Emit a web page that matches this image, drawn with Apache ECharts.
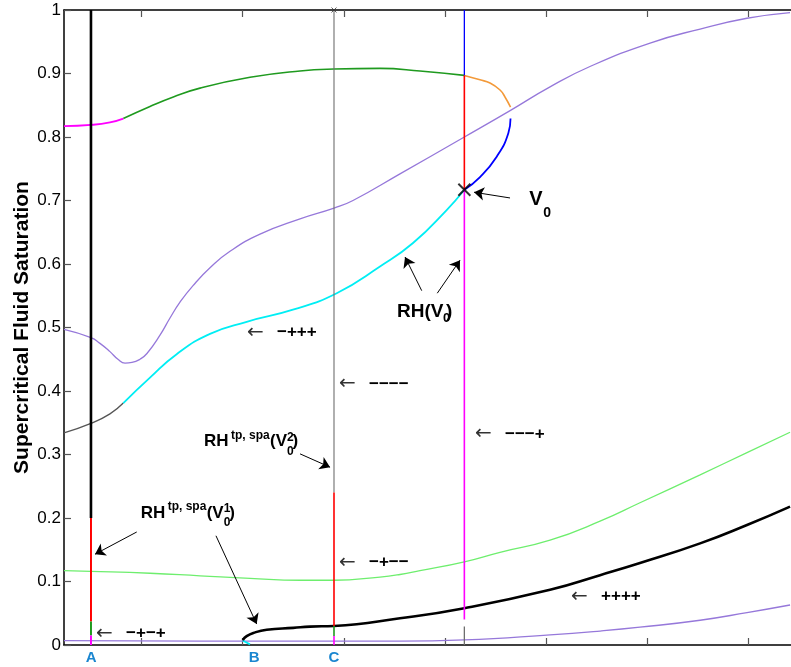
<!DOCTYPE html>
<html>
<head>
<meta charset="utf-8">
<script src="https://cdn.jsdelivr.net/npm/echarts@6/dist/echarts.min.js"></script>
<style>
  html, body { margin: 0; padding: 0; background: #fff; }
  #chart { width: 791px; height: 667px; }
</style>
</head>
<body>
<div id="chart"></div>
<script>
// ---------- axis ranges & ticks ----------
const xRange = [0.2311, 7.4255];
const xTickValues = [1, 2, 3, 4, 5, 6, 7];
const pointNames = ['A', 'B', 'C'];
const pointNamePos = [0.501, 2.113, 2.903];

// ---------- curves (x, saturation) ----------
const purpleUpper = [[0.231,0.497],[0.498,0.484],[0.587,0.475],[0.686,0.462],[0.765,0.450],[0.835,0.444],
  [0.904,0.445],[0.983,0.450],[1.052,0.459],[1.181,0.488],[1.280,0.515],[1.379,0.540],[1.508,0.566],
  [1.676,0.594],[1.874,0.620],[2.171,0.647],[2.567,0.671],[2.903,0.688],[3.091,0.700],[3.556,0.742],
  [4.193,0.800],[4.650,0.842],[5.041,0.879],[5.436,0.911],[6.031,0.948],[6.526,0.970],[6.990,0.987],
  [7.416,0.996]];
const purpleLower = [[0.231,0.007],[1.577,0.006],[2.903,0.006],[3.556,0.006],[4.193,0.008],[5.041,0.016],
  [5.536,0.022],[5.931,0.028],[6.526,0.039],[6.990,0.051],[7.416,0.063]];
const greenLower = [[0.231,0.117],[0.498,0.116],[1.082,0.113],[1.577,0.109],[2.072,0.105],[2.567,0.102],
  [2.903,0.102],[3.358,0.107],[3.556,0.111],[3.754,0.117],[4.193,0.131],[4.546,0.146],[5.041,0.165],
  [5.536,0.195],[5.931,0.224],[6.526,0.268],[6.990,0.303],[7.416,0.335]];
const blackLower = [[2.000,0.008],[2.039,0.014],[2.105,0.019],[2.237,0.024],[2.500,0.027],[2.666,0.029],
  [2.903,0.030],[3.556,0.042],[4.193,0.058],[5.041,0.087],[5.536,0.110],[5.931,0.129],[6.526,0.160],
  [6.990,0.189],[7.416,0.218]];
const cyanStub = [[2.000,0.007],[2.072,0.001]];

// saturation branch through V0
const grayBranch = [[0.231,0.334],[0.498,0.349],[0.686,0.364],[0.818,0.381]];
const cyanBranch = [[0.818,0.381],[1.082,0.421],[1.346,0.458],[1.676,0.490],[2.039,0.509],[2.497,0.528],
  [2.930,0.554],[3.358,0.596],[3.685,0.633],[4.018,0.685],[4.193,0.717]];
const blueBranch = [[4.193,0.717],[4.348,0.737],[4.513,0.769],[4.628,0.806],[4.650,0.829]];
const orangeBranch = [[4.650,0.847],[4.595,0.863],[4.546,0.874],[4.447,0.885],[4.348,0.890],[4.193,0.897]];
const greenBranch = [[0.818,0.829],[1.082,0.848],[1.313,0.863],[1.577,0.877],[2.072,0.894],[2.567,0.904],
  [2.903,0.907],[3.358,0.908],[3.754,0.904],[4.193,0.897]];
const magentaBranch = [[0.231,0.817],[0.498,0.819],[0.686,0.823],[0.818,0.829]];

// vertical wave groups: x position and break points from top to bottom
const xA = 0.498, xC = 2.903, xV0 = 4.193;
const breaksA = [1.0, 0.200, 0.037, 0.015, 0];
const breaksC = [1.0, 0.240, 0.030, 0.014, 0];
const breaksV0 = [1.0, 0.897, 0.717, 0.040];
const stubV0 = [0.029, 0];
const v0Point = [4.193, 0.717];
const topMarkC = [2.903, 1.0];

// annotation arrows: [from, to]
const arrows = [
  [[4.645,0.704],[4.289,0.713]],
  [[3.771,0.558],[3.606,0.611]],
  [[3.925,0.554],[4.150,0.606]],
  [[2.567,0.301],[2.864,0.280]],
  [[0.951,0.178],[0.538,0.143]],
  [[1.735,0.172],[2.138,0.033]]
];
// wave-group sign labels and their anchors
const signLabels = ['\u2212+++', '\u2212\u2212\u2212\u2212', '\u2212\u2212\u2212+', '\u2212+\u2212\u2212', '++++', '\u2212+\u2212+'];
const signAnchors = [[2.052,0.492],[2.962,0.411],[4.308,0.332],[2.962,0.130],[5.259,0.076],[0.558,0.018]];
// text anchors
const v0LabelAt = [4.835, 0.701];
const rhLabelAt = [3.526, 0.525];
const rhSpa2At = [1.617, 0.320];
const rhSpa1At = [0.990, 0.208];

// ---------- styles ----------
const FONT = "'Liberation Sans', Arial, Helvetica, sans-serif";
const C = {
  purple: '#9678DA', lgreen: '#6EEE6E', dgreen: '#1F9A1F', magenta: '#FF00FF',
  cyan: '#00EEF4', blue: '#0000FF', orange: '#F39A3A', red: '#FF0000',
  dgray: '#555555', mgray: '#6E6E6E', black: '#000000'
};

function curve(data, color, width, z) {
  return { type: 'line', data, symbol: 'none', smooth: 0.5,
           silent: true, animation: false, lineStyle: { color, width }, z: z || 2 };
}
function vertical(x, breaks, colors, widths) {
  const out = [];
  for (let i = 0; i < breaks.length - 1; i++) {
    out.push({ type: 'line', data: [[x, breaks[i]], [x, breaks[i + 1]]], symbol: 'none', silent: true,
               animation: false, lineStyle: { color: colors[i], width: widths[i] }, z: 4 });
  }
  return out;
}

const series = [
  curve(purpleUpper, C.purple, 1.3),
  curve(purpleLower, C.purple, 1.3),
  curve(greenLower, C.lgreen, 1.3),
  curve(blackLower, C.black, 2.6, 3),
  curve(cyanStub, C.cyan, 1.8),
  curve(grayBranch, C.dgray, 1.3),
  curve(cyanBranch, C.cyan, 1.8),
  curve(blueBranch, C.blue, 1.8),
  curve(orangeBranch, C.orange, 1.6),
  curve(greenBranch, C.dgreen, 1.6),
  curve(magentaBranch, C.magenta, 1.8),
  ...vertical(xA, breaksA, [C.black, C.red, C.dgreen, C.magenta], [2.6, 2, 2, 2]),
  ...vertical(xC, breaksC, [C.mgray, C.red, C.dgreen, C.magenta], [1.1, 1.6, 1.6, 1.6]),
  ...vertical(xV0, breaksV0, [C.blue, C.red, C.magenta], [1.3, 1.6, 1.6]),
  ...vertical(xV0, stubV0, [C.mgray], [1.3]),
  { type: 'scatter', data: [v0Point], symbol: 'path://M0,0 L10,10 M10,0 L0,10', symbolSize: 12,
    itemStyle: { color: 'none', borderColor: '#000', borderWidth: 2 }, silent: true, animation: false, z: 6 },
  { type: 'scatter', data: [topMarkC], symbol: 'path://M0,0 L10,10 M10,0 L0,10', symbolSize: 5,
    itemStyle: { color: 'none', borderColor: '#333', borderWidth: 1 }, silent: true, animation: false, z: 6 },
  { type: 'line', data: [], silent: true, animation: false,
    markLine: { silent: true, animation: false, symbol: ['none', 'arrow'], symbolSize: 10,
      lineStyle: { color: '#000', width: 1, type: 'solid' }, label: { show: false },
      emphasis: { disabled: true },
      data: arrows.map(a => [{ coord: a[0] }, { coord: a[1] }]) } }
];

const tickStyle = { show: true, inside: true, length: 7, lineStyle: { color: '#555', width: 1.2 } };

const option = {
  animation: false,
  backgroundColor: '#fff',
  grid: { left: 64, right: 0, top: 10, bottom: 22, containLabel: false, outerBoundsMode: 'none' },
  xAxis: [
    { type: 'value', min: xRange[0], max: xRange[1], position: 'bottom',
      axisLine: { show: true, onZero: false, lineStyle: { color: '#000', width: 1.5 } },
      axisTick: Object.assign({ customValues: xTickValues }, tickStyle),
      splitLine: { show: false },
      axisLabel: { show: true, customValues: pointNamePos, margin: 5,
        color: '#1A86D0', fontSize: 15, fontWeight: 'bold', fontFamily: FONT,
        formatter: v => {
          let best = 0;
          pointNamePos.forEach((p, i) => { if (Math.abs(p - v) < Math.abs(pointNamePos[best] - v)) best = i; });
          return pointNames[best];
        } } },
    { type: 'value', min: xRange[0], max: xRange[1], position: 'top',
      axisLine: { show: true, onZero: false, lineStyle: { color: '#000', width: 1.5 } },
      axisTick: Object.assign({ customValues: xTickValues }, tickStyle),
      splitLine: { show: false }, axisLabel: { show: false } }
  ],
  yAxis: {
    type: 'value', min: 0, max: 1, interval: 0.1,
    name: 'Supercritical Fluid Saturation', nameLocation: 'middle', nameGap: 31, nameMoveOverlap: false,
    nameTextStyle: { fontSize: 21, fontWeight: 'bold', color: '#000', fontFamily: FONT },
    axisLine: { show: true, onZero: false, lineStyle: { color: '#000', width: 1.5 } },
    axisTick: tickStyle,
    splitLine: { show: false },
    axisLabel: { margin: 3, fontSize: 17, color: '#000', fontFamily: FONT,
      formatter: v => (v === 0 ? '0' : (Math.abs(v - 1) < 1e-9 ? '1' : v.toFixed(1))) }
  },
  series
};

const chart = echarts.init(document.getElementById('chart'), null, { renderer: 'canvas' });
chart.setOption(option);

// ---------- text annotations placed from data anchors ----------
const toPx = p => chart.convertToPixel({ xAxisIndex: 0, yAxisIndex: 0 }, p);
const graphics = [];
function addText(at, parts) {
  const [x0, y0] = toPx(at);
  parts.forEach(([t, dx, dy, size, weight, color, family]) => {
    graphics.push({ type: 'text', x: x0 + dx, y: y0 + dy, silent: true, z: 10,
      style: { text: t, fill: color || '#000', fontSize: size, fontWeight: weight || 'bold',
               fontFamily: family || FONT, align: 'left', verticalAlign: 'middle' } });
  });
}
addText(v0LabelAt, [['V', 0, 0, 20], ['0', 14, 13, 14]]);
addText(rhLabelAt, [['RH(V', 0, 0, 19], ['0', 46, 7, 13], [')', 49, 0, 19]]);
function rhSpa(at, sup) {
  addText(at, [['RH', 0, 0, 17], ['tp, spa', 27, -6, 12], ['(V', 66, 0, 17],
               [sup, 83, -4, 12], ['0', 83, 10, 12], [')', 88.5, 0, 17]]);
}
rhSpa(rhSpa2At, '2');
rhSpa(rhSpa1At, '1');
signLabels.forEach((s, i) => {
  addText(signAnchors[i], [['\u2190', -1, 0, 20, 'normal', '#333', "'DejaVu Sans', sans-serif"],
                           [s, 29, 0, 17, 'bold']]);
});
chart.setOption({ graphic: graphics });
</script>
</body>
</html>
